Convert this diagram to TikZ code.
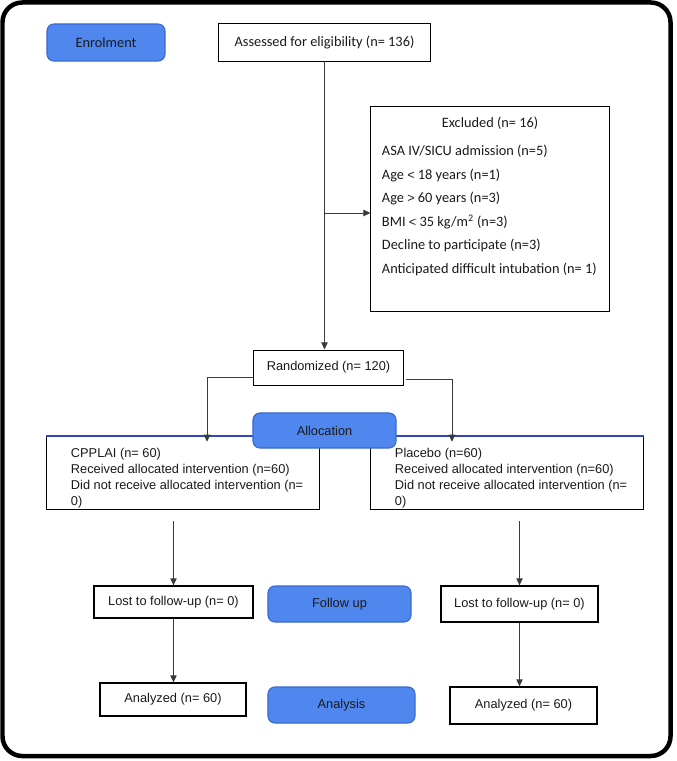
\documentclass[tikz,border=0pt]{standalone}
\usepackage{fontspec}
\setmainfont{Liberation Sans}
\newfontfamily\calfont{Carlito}
\usetikzlibrary{arrows.meta}
\definecolor{phaseblue}{HTML}{4F87EF}
\definecolor{phaseedge}{HTML}{3A6AD0}
\definecolor{navyline}{HTML}{3246C4}
\definecolor{linegray}{HTML}{3A3A3A}
\definecolor{darktext}{HTML}{1A1A1A}
\newcommand{\armtext}[1]{\makebox[6.2cm][l]{\begin{tabular}{@{\hspace{0.3cm}}l@{}}#1\end{tabular}}}

\begin{document}
\begin{tikzpicture}[x=0.025cm, y=-0.025cm,
    box/.style={draw=black, line width=0.7pt, fill=white, inner sep=0pt, text=darktext, font=\fontsize{9.1}{11.3}\selectfont},
    calbox/.style={box, font=\calfont\fontsize{10.2}{16.7}\selectfont},
    armbox/.style={box, minimum width=6.8cm, minimum height=1.65cm},
    phase/.style={draw=phaseedge, fill=phaseblue, rounded corners=5pt, line width=0.8pt, inner sep=0pt, text=darktext, font=\fontsize{9.1}{11}\selectfont},
    arr/.style={draw=linegray, line width=0.7pt, -{Triangle[length=5pt,width=4.5pt]}}
  ]
  \useasboundingbox (0,0) rectangle (676,761);
  \draw[line width=3.2pt, rounded corners=14pt] (2.5,2.5) rectangle (670.5,756);

  % enrolment
  \node[phase, font=\calfont\fontsize{10.2}{12}\selectfont, minimum width=2.95cm, minimum height=0.925cm] (enrol) at (106,42.5) {Enrolment};
  \node[calbox, minimum width=5.275cm, minimum height=0.925cm] (assess) at (324.5,42.5) {Assessed for eligibility (n= 136)};
  \node[calbox, minimum width=5.95cm, minimum height=5.1cm] (excl) at (490,209) {\parbox[c][5.1cm][t]{5.4cm}{%
      \rule{0pt}{14.6pt}\makebox[\linewidth]{Excluded (n= 16)}\\[3.5pt]
      ASA IV/SICU admission (n=5)\\
      Age {\fontspec{Liberation Sans}\fontsize{9}{9}\selectfont <} 18 years (n=1)\\
      Age {\fontspec{Liberation Sans}\fontsize{9}{9}\selectfont >} 60 years (n=3)\\
      BMI {\fontspec{Liberation Sans}\fontsize{9}{9}\selectfont <} 35 kg/m\textsuperscript{2} (n=3)\\
      Decline to participate (n=3)\\
      Anticipated difficult intubation (n= 1)}};
  \node[box, minimum width=3.725cm, minimum height=0.875cm] (rand) at (328.5,367.5) {Randomized (n= 120)};

  % allocation
  \node[armbox] (cpplai) at (183,473) {\armtext{\rule{0pt}{15pt}CPPLAI (n= 60)\\
    Received allocated intervention (n=60)\\
    Did not receive allocated intervention (n=\\
    0)}};
  \node[armbox] (placebo) at (507,473) {\armtext{\rule{0pt}{15pt}Placebo (n=60)\\
    Received allocated intervention (n=60)\\
    Did not receive allocated intervention (n=\\
    0)}};
  \draw[navyline, line width=1.1pt] (cpplai.north west) -- (placebo.north east);
  \node[phase, minimum width=3.575cm, minimum height=0.875cm] (alloc) at (324.5,430.5) {Allocation};

  % follow up
  \node[box, line width=0.9pt, minimum width=3.975cm, minimum height=0.8cm] (lost1) at (173.5,602) {Lost to follow-up (n= 0)};
  \node[phase, minimum width=3.575cm, minimum height=0.9cm] (follow) at (339.5,604) {Follow up};
  \node[box, line width=0.9pt, minimum width=3.925cm, minimum height=0.9cm] (lost2) at (519.5,604) {Lost to follow-up (n= 0)};

  % analysis
  \node[box, line width=0.9pt, minimum width=3.65cm, minimum height=0.825cm] (anal1) at (173,699.5) {Analyzed (n= 60)};
  \node[phase, minimum width=3.675cm, minimum height=0.9cm] (analysis) at (341.5,705) {Analysis};
  \node[box, line width=0.9pt, minimum width=3.675cm, minimum height=0.925cm] (anal2) at (523.5,705.5) {Analyzed (n= 60)};

  % connectors
  \coordinate (exclbranch) at (324.5,213);
  \draw[arr] (assess.south) -- (assess.south |- rand.north);
  \draw[arr] (exclbranch) -- (exclbranch -| excl.west);
  \draw[arr] ([yshift=-0.25cm]rand.west) -| ([xshift=0.6cm,yshift=-0.15cm]cpplai.north);
  \draw[arr] ([xshift=0.05cm,yshift=-0.3cm]rand.east) -| ([xshift=-1.375cm,yshift=-0.15cm]placebo.north);
  \draw[arr, shorten <=0.275cm] (lost1.north |- cpplai.south) -- (lost1.north);
  \draw[arr, shorten <=0.275cm] (lost2.north |- placebo.south) -- (lost2.north);
  \draw[arr] (lost1.south) -- (lost1.south |- anal1.north);
  \draw[arr] (lost2.south) -- (lost2.south |- anal2.north);
\end{tikzpicture}
\end{document}
